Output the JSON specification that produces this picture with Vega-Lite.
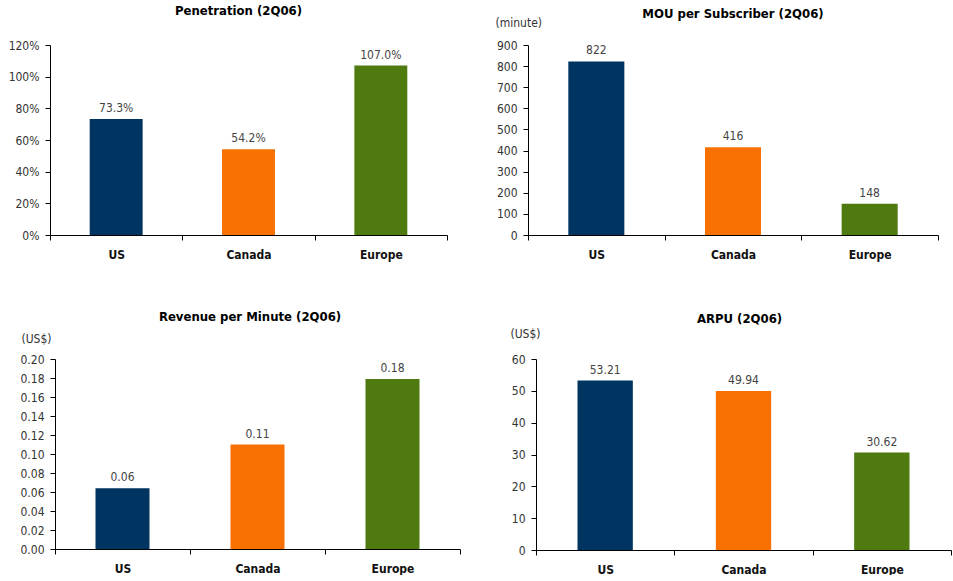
{
  "$schema": "https://vega.github.io/schema/vega-lite/v6.json",
  "background": "white",
  "padding": {"left": 8, "top": 5, "right": 0, "bottom": 0},
  "config": {
    "font": "Liberation Sans Narrow, DejaVu Sans Condensed, Liberation Sans, sans-serif",
    "view": {"stroke": null},
    "title": {"fontSize": 13, "fontWeight": "bold", "color": "#000", "anchor": "middle"},
    "axis": {"domainColor": "#000", "tickColor": "#000", "grid": false, "labelFontSize": 12, "labelColor": "#333", "tickSize": 5},
    "axisX": {"labelFontWeight": "bold", "labelColor": "#111", "labelPadding": 9, "labelAngle": 0, "tickBand": "extent", "title": null},
    "axisY": {"labelPadding": 6, "titleAngle": 0, "titleFontWeight": "normal", "titleFontSize": 12, "titleColor": "#333", "titleAlign": "left", "titleBaseline": "middle"},
    "text": {"fontSize": 12, "color": "#444", "baseline": "alphabetic", "dy": -7}
  },
  "datasets": {
    "pen": [{"region": "US", "value": 0.733}, {"region": "Canada", "value": 0.542}, {"region": "Europe", "value": 1.07}],
    "mou": [{"region": "US", "value": 822}, {"region": "Canada", "value": 416}, {"region": "Europe", "value": 148}],
    "rpm": [{"region": "US", "value": 0.064}, {"region": "Canada", "value": 0.11}, {"region": "Europe", "value": 0.179}],
    "arpu": [{"region": "US", "value": 53.21}, {"region": "Canada", "value": 49.94}, {"region": "Europe", "value": 30.62}]
  },
  "columns": 2,
  "spacing": {"row": 124, "column": 68},
  "bounds": "flush",
  "concat": [
    {
      "width": 397, "height": 190,
      "title": {"text": "Penetration (2Q06)", "offset": 21, "dx": -10},
      "data": {"name": "pen"},
      "encoding": {
        "x": {"field": "region", "type": "nominal", "sort": null, "scale": {"paddingInner": 0, "paddingOuter": 0}},
        "y": {"field": "value", "type": "quantitative", "scale": {"domain": [0, 1.2]}, "axis": {"values": [0, 0.2, 0.4, 0.6, 0.8, 1.0, 1.2], "format": ".0%", "title": null}}
      },
      "layer": [
        {"mark": {"type": "bar", "width": {"band": 0.4}}, "encoding": {"color": {"field": "region", "type": "nominal", "scale": {"domain": ["US", "Canada", "Europe"], "range": ["#003461", "#F77000", "#4E7A10"]}, "legend": null}}},
        {"mark": {"type": "text"}, "encoding": {"text": {"field": "value", "type": "quantitative", "format": ".1%"}}}
      ]
    },
    {
      "width": 410, "height": 190,
      "title": {"text": "MOU per Subscriber (2Q06)", "offset": -5},
      "data": {"name": "mou"},
      "encoding": {
        "x": {"field": "region", "type": "nominal", "sort": null, "scale": {"paddingInner": 0, "paddingOuter": 0}},
        "y": {"field": "value", "type": "quantitative", "scale": {"domain": [0, 900]}, "axis": {"values": [0, 100, 200, 300, 400, 500, 600, 700, 800, 900], "title": "(minute)", "titleX": -33, "titleY": -23}}
      },
      "layer": [
        {"mark": {"type": "bar", "width": {"band": 0.41}}, "encoding": {"color": {"field": "region", "type": "nominal", "scale": {"domain": ["US", "Canada", "Europe"], "range": ["#003461", "#F77000", "#4E7A10"]}, "legend": null}}},
        {"mark": {"type": "text"}, "encoding": {"text": {"field": "value", "type": "quantitative", "format": "d"}}}
      ]
    },
    {
      "width": 410, "height": 190,
      "title": {"text": "Revenue per Minute (2Q06)", "offset": 8, "dx": -5},
      "data": {"name": "rpm"},
      "encoding": {
        "x": {"field": "region", "type": "nominal", "sort": null, "scale": {"paddingInner": 0, "paddingOuter": 0, "range": [5, 410]}},
        "y": {"field": "value", "type": "quantitative", "scale": {"domain": [0, 0.2]}, "axis": {"values": [0, 0.02, 0.04, 0.06, 0.08, 0.1, 0.12, 0.14, 0.16, 0.18, 0.2], "format": ".2f", "offset": -5, "title": "(US$)", "titleX": -34, "titleY": -21}}
      },
      "layer": [
        {"mark": {"type": "bar", "width": {"band": 0.4}}, "encoding": {"color": {"field": "region", "type": "nominal", "scale": {"domain": ["US", "Canada", "Europe"], "range": ["#003461", "#F77000", "#4E7A10"]}, "legend": null}}},
        {"mark": {"type": "text"}, "encoding": {"text": {"field": "value", "type": "quantitative", "format": ".2f"}}}
      ]
    },
    {
      "width": 423, "height": 191,
      "title": {"text": "ARPU (2Q06)", "offset": 1},
      "data": {"name": "arpu"},
      "encoding": {
        "x": {"field": "region", "type": "nominal", "sort": null, "scale": {"paddingInner": 0, "paddingOuter": 0, "range": [8, 423]}},
        "y": {"field": "value", "type": "quantitative", "scale": {"domain": [0, 60]}, "axis": {"values": [0, 10, 20, 30, 40, 50, 60], "offset": -8, "title": "(US$)", "titleX": -26, "titleY": -26}}
      },
      "layer": [
        {"mark": {"type": "bar", "width": {"band": 0.4}}, "encoding": {"color": {"field": "region", "type": "nominal", "scale": {"domain": ["US", "Canada", "Europe"], "range": ["#003461", "#F77000", "#4E7A10"]}, "legend": null}}},
        {"mark": {"type": "text"}, "encoding": {"text": {"field": "value", "type": "quantitative", "format": ".2f"}}}
      ]
    }
  ]
}
